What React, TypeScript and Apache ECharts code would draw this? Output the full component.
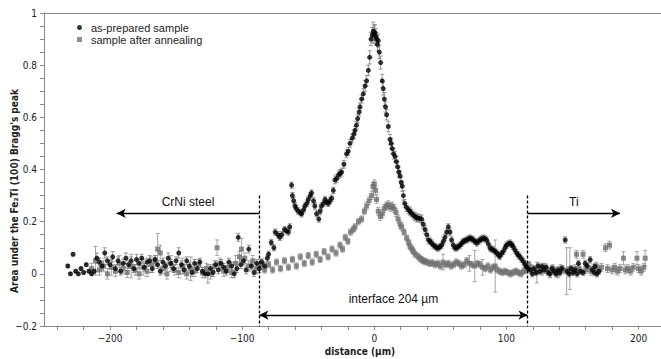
import React, { useEffect, useRef } from "react";
import * as echarts from "echarts";

// [distance (µm), area, error]
const asPrepared: number[][] = [
  [-232,0.03,0.005],[-230,0.0,0.005],[-228,0.075,0.006],[-226,0.01,0.005],[-224,0.0,0.005],[-222,0.02,0.005],[-220,0.005,0.005],[-218,0.035,0.006],[-216,0.01,0.005],[-214,0.0,0.005],[-212,0.01,0.006],
  [-210,0.06,0.02],[-208,0.045,0.015],[-206,0.03,0.015],[-204,0.08,0.02],[-202,0.05,0.015],[-200,0.035,0.015],[-198,0.065,0.02],[-196,0.02,0.015],[-194,0.05,0.015],[-192,0.01,0.015],[-190,0.04,0.015],[-188,0.06,0.02],[-186,0.035,0.015],[-184,0.05,0.015],[-182,0.02,0.015],[-180,0.055,0.02],[-178,0.04,0.015],[-176,0.06,0.015],[-174,0.025,0.015],[-172,0.045,0.015],[-170,0.05,0.02],[-168,0.02,0.015],[-166,0.055,0.015],[-164,0.035,0.015],[-162,0.01,0.015],[-160,0.045,0.015],[-158,0.03,0.015],[-156,0.06,0.02],[-154,0.04,0.015],[-152,0.02,0.015],[-150,0.05,0.015],[-148,0.08,0.02],[-146,0.035,0.015],[-144,0.015,0.015],[-142,0.05,0.015],[-140,0.03,0.015],[-138,0.005,0.015],[-136,0.04,0.015],[-134,0.02,0.015],[-132,0.045,0.015],[-130,0.01,0.015],[-128,0.0,0.015],[-126,0.0,0.035],[-124,0.02,0.015],[-122,0.005,0.015],[-120,0.035,0.015],[-118,0.015,0.015],[-116,0.04,0.015],[-114,0.025,0.015],[-112,0.01,0.015],[-110,0.045,0.015],[-108,0.03,0.015],[-106,0.0,0.015],[-104,0.02,0.015],[-103,0.14,0.015],[-101,0.035,0.015],[-99,0.05,0.015],[-97,0.015,0.015],[-95,0.095,0.015],[-93,0.03,0.015],[-91,0.005,0.015],[-89,0.04,0.015],[-87,0.02,0.015],
  [-85,0.045,0.012],[-83,0.03,0.012],[-81,0.06,0.012],[-80,0.075,0.012],[-78,0.12,0.012],[-76,0.1,0.012],[-75,0.16,0.012],[-73,0.15,0.012],[-71.5,0.14,0.012],[-70,0.15,0.012],[-68,0.17,0.012],[-66.5,0.165,0.012],[-65,0.16,0.012],[-64,0.18,0.012],[-62.6,0.34,0.012],[-62,0.3,0.012],[-61,0.28,0.012],[-60,0.26,0.012],[-59,0.25,0.012],[-57.6,0.24,0.012],[-56,0.235,0.012],[-55,0.23,0.012],[-53.5,0.245,0.012],[-52.5,0.26,0.012],[-51,0.27,0.012],[-50,0.285,0.012],[-48.5,0.3,0.012],[-47.5,0.31,0.012],[-46,0.28,0.012],[-45,0.26,0.012],[-43.7,0.23,0.012],[-42,0.21,0.012],[-41,0.24,0.012],[-40,0.26,0.012],[-38.5,0.27,0.012],[-37.3,0.285,0.012],[-36,0.275,0.012],[-34.8,0.27,0.012],[-33.5,0.28,0.012],[-32.3,0.29,0.012],[-31,0.32,0.012],[-29.8,0.36,0.015],[-28.5,0.365,0.015],[-27,0.38,0.015],[-25.8,0.385,0.015],[-24.7,0.39,0.015],[-23,0.42,0.015],[-21,0.46,0.015],[-19.7,0.47,0.015],[-18.4,0.5,0.015],[-16.7,0.52,0.015],[-15.5,0.535,0.015],[-14.6,0.55,0.015],[-13.5,0.57,0.015],[-12.6,0.595,0.015],[-11.5,0.62,0.015],[-10.8,0.64,0.015],[-9.6,0.67,0.015],[-8.3,0.69,0.02],[-7,0.72,0.02],[-5.8,0.74,0.02],[-4.5,0.78,0.02],[-3.5,0.83,0.025],[-2.5,0.9,0.025],[-1.5,0.915,0.03],[-0.8,0.93,0.035],[0,0.92,0.035],[0.5,0.925,0.03],[1.2,0.91,0.03],[1.7,0.9,0.025],[2.4,0.88,0.025],[3,0.894,0.025],[3.8,0.85,0.025],[4.8,0.81,0.025],[6,0.74,0.025],[6.8,0.71,0.025],[7.6,0.67,0.025],[8.5,0.64,0.02],[9.3,0.61,0.02],[10.6,0.565,0.02],[11.9,0.515,0.02],[12.8,0.5,0.02],[13.6,0.48,0.02],[14.6,0.46,0.02],[15.7,0.45,0.02],[16.7,0.43,0.02],[17.7,0.41,0.02],[18.6,0.39,0.02],[19.5,0.375,0.02],[20.4,0.35,0.02],[21.2,0.336,0.02],[22,0.3,0.02],[23,0.27,0.015],[24.3,0.255,0.015],[25.8,0.245,0.015],[27,0.24,0.015],[28,0.233,0.015],[29.5,0.225,0.015],[30.8,0.22,0.015],[32,0.215,0.015],[33,0.214,0.015],[34.5,0.212,0.015],[35.8,0.21,0.015],[37,0.19,0.015],[38.4,0.17,0.015],[39.7,0.15,0.015],[41,0.13,0.015],[42.2,0.125,0.012],[43.4,0.118,0.012],[44.7,0.11,0.012],[46,0.105,0.012],[47.2,0.1,0.012],[48.5,0.099,0.012],[49.8,0.104,0.012],[51,0.11,0.012],[52.3,0.125,0.012],[53.5,0.14,0.012],[54.8,0.16,0.012],[56,0.18,0.012],[57.3,0.16,0.012],[58.5,0.13,0.012],[59.8,0.11,0.012],[61,0.1,0.012],[62.3,0.099,0.012],[63.6,0.105,0.012],[65,0.11,0.012],[66.2,0.118,0.012],[67.4,0.124,0.012],[68.7,0.128,0.012],[70,0.13,0.012],[71.2,0.134,0.012],[72.5,0.137,0.012],[73.8,0.134,0.012],[75,0.13,0.012],[76.3,0.124,0.012],[77.6,0.118,0.012],[78.8,0.125,0.012],[80,0.13,0.012],[81.3,0.134,0.012],[82.6,0.137,0.012],[83.8,0.134,0.012],[85,0.13,0.012],[86.3,0.115,0.012],[87.6,0.099,0.012],[88.8,0.095,0.012],[90,0.092,0.012],[91.4,0.086,0.012],[92.7,0.08,0.012],[94,0.072,0.012],[95,0.067,0.012],[96.3,0.078,0.012],[97.7,0.086,0.012],[99,0.1,0.012],[100,0.11,0.012],[101.4,0.115,0.012],[102.8,0.118,0.012],[104,0.112,0.012],[105,0.105,0.012],[106.4,0.092,0.012],[107.8,0.08,0.012],[109,0.072,0.012],[110,0.067,0.012],[111.5,0.056,0.012],[112.9,0.047,0.012],[114,0.036,0.012],[115,0.028,0.012],[116.5,0.02,0.012],[118,0.015,0.012],
  [119.5,0.0,0.012],[121,0.02,0.012],[122.5,0.005,0.012],[124,0.03,0.012],[125.5,0.01,0.012],[127,0.028,0.012],[128.5,0.015,0.012],[130,0.025,0.012],[131.5,0.005,0.012],[133,0.0,0.012],[134.5,0.02,0.012],[136,0.01,0.012],[137.5,0.0,0.012],[139,0.015,0.012],[140.5,0.005,0.012],[142,0.02,0.012],[144.5,0.13,0.012],[146,0.01,0.012],[147.5,0.0,0.012],[149,0.02,0.012],[150.5,0.005,0.012],[152,0.015,0.012],[153.5,0.0,0.012],[154.5,0.04,0.012],[156,0.01,0.012],[158,0.005,0.012],[159.6,0.04,0.012],[161,0.03,0.012],[163.4,0.054,0.012],[165,0.015,0.012],[166.5,0.005,0.012],[167,0.028,0.012],[168.5,0.0,0.012],[170,0.01,0.012]
];

const afterAnnealing: number[][] = [
  [-214,0.02,0.02],[-211,0.05,0.055],[-208,0.015,0.02],[-205,0.03,0.02],[-202,0.0,0.02],[-199,0.025,0.03],[-196,0.01,0.02],[-193,0.04,0.03],[-190,0.02,0.02],[-187,0.005,0.02],[-184,0.03,0.045],[-181,0.015,0.02],[-178,0.0,0.02],[-175,0.025,0.03],[-172,0.01,0.02],[-169,0.035,0.03],[-166,0.05,0.02],[-164,0.095,0.06],[-162,0.08,0.03],[-160,0.02,0.02],[-157,0.0,0.02],[-154,0.04,0.03],[-151,0.015,0.02],[-148,0.005,0.02],[-145,0.03,0.03],[-142,0.0,0.02],[-139,0.02,0.045],[-136,0.01,0.02],[-133,0.035,0.02],[-130,0.005,0.02],[-127,0.02,0.02],[-124,0.0,0.02],[-121,0.03,0.02],[-119,0.1,0.03],[-117,0.04,0.02],[-114,0.01,0.02],[-111,0.025,0.02],[-108,0.005,0.02],[-105,0.04,0.03],[-102,0.065,0.02],[-100.5,0.095,0.04],[-98,0.06,0.02],[-95,0.03,0.02],[-92,0.05,0.02],[-89,0.02,0.02],[-86,0.035,0.02],
  [-83,0.015,0.012],[-80,0.035,0.012],[-77,0.015,0.012],[-74,0.045,0.012],[-71,0.02,0.012],[-68,0.05,0.012],[-65,0.025,0.012],[-62,0.055,0.012],[-59,0.03,0.012],[-56,0.065,0.012],[-53,0.04,0.012],[-50,0.07,0.012],[-47,0.045,0.012],[-44,0.075,0.012],[-41,0.055,0.012],[-38,0.085,0.012],[-35,0.065,0.012],[-32,0.095,0.012],[-29,0.08,0.012],[-26,0.11,0.012],[-24,0.095,0.012],[-22,0.14,0.012],[-20,0.125,0.012],[-18,0.16,0.012],[-16,0.17,0.012],[-14.6,0.18,0.012],[-12,0.2,0.012],[-9.6,0.21,0.012],[-7.5,0.24,0.012],[-5.8,0.26,0.015],[-4,0.28,0.015],[-2,0.3,0.015],[-1,0.335,0.015],[0,0.345,0.015],[1,0.32,0.015],[1.7,0.285,0.015],[3,0.24,0.015],[4.5,0.22,0.015],[6,0.23,0.015],[7.5,0.25,0.015],[9,0.26,0.015],[10.5,0.265,0.015],[12,0.255,0.015],[13.5,0.26,0.015],[15,0.25,0.015],[16.5,0.235,0.015],[18,0.21,0.015],[19.5,0.19,0.015],[20.7,0.18,0.015],[22.5,0.16,0.012],[24.5,0.137,0.012],[26,0.12,0.012],[27,0.105,0.012],[28.5,0.095,0.012],[29.5,0.086,0.012],[31,0.075,0.012],[33,0.067,0.012],[34.5,0.06,0.012],[35.8,0.054,0.012],[37,0.05,0.012],[38.4,0.047,0.012],[40,0.045,0.012],[42,0.04,0.012],[44,0.042,0.012],[46,0.035,0.012],[48,0.04,0.012],[50,0.03,0.012],[52,0.045,0.03],[54,0.035,0.012],[56,0.04,0.012],[58,0.03,0.012],[60,0.035,0.012],[62,0.045,0.012],[64,0.04,0.012],[66,0.03,0.012],[68,0.035,0.012],[70,0.05,0.012],[72,0.04,0.03],[74,0.035,0.012],[76,0.03,0.06],[78,0.04,0.012],[80,0.035,0.012],[82,0.025,0.03],[84,0.02,0.012],[86,0.03,0.012],[88,0.015,0.012],[90,0.025,0.012],[91.5,0.03,0.1],[93,0.015,0.012],[95,0.01,0.012],[97,0.005,0.012],[99,0.01,0.012],[101,0.005,0.012],[103,0.0,0.012],[105,0.005,0.012],[107,0.01,0.012],[109,0.005,0.012],[111,0.0,0.012],[113,0.01,0.012],[115,0.015,0.012],[117,0.035,0.012],
  [119,0.02,0.015],[121,0.01,0.015],[123,0.005,0.04],[125,0.02,0.015],[127,0.01,0.015],[129,0.025,0.015],[131,0.015,0.015],[133,0.005,0.02],[135,0.02,0.015],[137,0.01,0.015],[139,0.0,0.015],[141,0.02,0.015],[143,0.015,0.015],[145.6,0.01,0.09],[148,0.02,0.08],[150,0.01,0.015],[152,0.02,0.015],[153,0.075,0.015],[155,0.02,0.015],[158,0.075,0.015],[160,0.015,0.015],[162,0.025,0.015],[164,0.01,0.015],[166,0.02,0.015],[168,0.03,0.015],[170,0.015,0.015],[172,0.025,0.015],[175,0.1,0.015],[176.5,0.02,0.015],[178,0.11,0.015],[180,0.015,0.015],[182,0.025,0.015],[184,0.01,0.015],[186,0.02,0.015],[188.6,0.06,0.025],[190,0.015,0.015],[192,0.02,0.015],[194,0.01,0.015],[196,0.025,0.015],[198.8,0.06,0.025],[200,0.02,0.015],[202,0.01,0.015],[204,0.025,0.015],[205,0.06,0.03]
];

const seriesNames = ["as-prepared sample", "sample after annealing"];
const xLabelValues = [-200, -100, 0, 100, 200];
const xTickValues = [-240,-220,-200,-180,-160,-140,-120,-100,-80,-60,-40,-20,0,20,40,60,80,100,120,140,160,180,200];
const yLabelValues = [-0.2, 0, 0.2, 0.4, 0.6, 0.8, 1];
const yTickValues = [-0.2,-0.15,-0.1,-0.05,0,0.05,0.1,0.15,0.2,0.25,0.3,0.35,0.4,0.45,0.5,0.55,0.6,0.65,0.7,0.75,0.8,0.85,0.9,0.95,1];

// interface boundaries and annotation levels
const interfaceLeft = -87;
const interfaceRight = 116;
const dashTop = 0.3;
const sideArrowY = 0.232;
const crniArrowEnd = -195;
const tiArrowEnd = 186;
const interfaceArrowY = -0.158;

const AXIS_FONT = '"DejaVu Sans Condensed", "DejaVu Sans", sans-serif';
const TEXT_FONT = '"Liberation Sans", Arial, sans-serif';

function fmt(v: number): string {
  const s = String(Math.round(v * 100) / 100);
  return s.replace("-", "\u2212");
}

function errRender(color: string) {
  return (params: any, api: any) => {
    const x = api.value(0);
    const y = api.value(1);
    const e = api.value(2);
    const top = api.coord([x, y + e]);
    const bot = api.coord([x, y - e]);
    const st = { stroke: color, lineWidth: 0.8 };
    return {
      type: "group",
      children: [
        { type: "line", shape: { x1: top[0], y1: top[1], x2: bot[0], y2: bot[1] }, style: st },
        { type: "line", shape: { x1: top[0] - 2, y1: top[1], x2: top[0] + 2, y2: top[1] }, style: st },
        { type: "line", shape: { x1: bot[0] - 2, y1: bot[1], x2: bot[0] + 2, y2: bot[1] }, style: st },
      ],
    };
  };
}

export default function App() {
  const ref = useRef<HTMLDivElement>(null);
  useEffect(() => {
    if (!ref.current) return;
    const chart = echarts.init(ref.current, null, { renderer: "svg" });
    const axisColor = "#8a8a8a";
    const option: any = {
      animation: false,
      backgroundColor: "#ffffff",
      grid: { left: 44, right: 0, top: 13, bottom: 33 },
      legend: {
        left: 72,
        top: 17,
        orient: "vertical",
        itemWidth: 5,
        itemHeight: 5,
        itemGap: 1,
        data: seriesNames,
        textStyle: { fontFamily: TEXT_FONT, fontSize: 11, color: "#222", padding: [0, 0, 0, 4] },
      },
      xAxis: [
        {
          type: "value",
          min: -250,
          max: 217,
          axisLine: { show: true, onZero: false, lineStyle: { color: axisColor, width: 1 } },
          axisTick: { show: true, customValues: xTickValues, length: 4, lineStyle: { color: axisColor } },
          axisLabel: { customValues: xLabelValues, formatter: (v: number) => fmt(v), margin: 7, fontFamily: AXIS_FONT, fontSize: 10, color: "#222" },
          splitLine: { show: false },
        },
        {
          type: "value",
          position: "top",
          min: -250,
          max: 217,
          axisLine: { show: true, onZero: false, lineStyle: { color: axisColor, width: 1 } },
          axisTick: { show: false },
          axisLabel: { show: false },
          splitLine: { show: false },
        },
      ],
      yAxis: {
        type: "value",
        min: -0.2,
        max: 1,
        axisLine: { show: true, onZero: false, lineStyle: { color: axisColor, width: 1 } },
        axisTick: { show: true, customValues: yTickValues, length: 4, lineStyle: { color: axisColor } },
        axisLabel: { customValues: yLabelValues, formatter: (v: number) => fmt(v), margin: 7, fontFamily: AXIS_FONT, fontSize: 10, color: "#222" },
        splitLine: { show: false },
      },
      graphic: [
        {
          type: "text",
          x: 14,
          y: 191,
          rotation: Math.PI / 2,
          style: {
            text: "Area under the Fe\u2082Ti (100) Bragg's peak",
            fontFamily: AXIS_FONT,
            fontWeight: "bold",
            fontSize: 10,
            fill: "#222",
            align: "center",
            verticalAlign: "middle",
          },
        },
        {
          type: "text",
          x: 360,
          y: 351,
          style: {
            text: "distance (\u00b5m)",
            fontFamily: AXIS_FONT,
            fontWeight: "bold",
            fontSize: 10,
            fill: "#222",
            align: "center",
            verticalAlign: "middle",
          },
        },
      ],
      series: [
        {
          type: "custom",
          name: "annealErr",
          renderItem: errRender("#8f8f8f"),
          data: afterAnnealing,
          encode: { x: 0, y: 1 },
          z: 1,
          silent: true,
        },
        {
          type: "scatter",
          name: seriesNames[1],
          data: afterAnnealing.map((d) => [d[0], d[1]]),
          symbol: "rect",
          symbolSize: 5,
          itemStyle: { color: "#6e6e6e" },
          z: 2,
        },
        {
          type: "custom",
          name: "preparedErr",
          renderItem: errRender("#7d7d7d"),
          data: asPrepared,
          encode: { x: 0, y: 1 },
          z: 3,
          silent: true,
        },
        {
          type: "scatter",
          name: seriesNames[0],
          data: asPrepared.map((d) => [d[0], d[1]]),
          symbol: "circle",
          symbolSize: 5,
          itemStyle: { color: "#000000" },
          z: 4,
          markLine: {
            silent: true,
            symbol: ["none", "none"],
            symbolSize: [7, 9],
            lineStyle: { color: "#000", width: 1.3, type: "solid" },
            label: { show: false },
            data: [
              [
                { coord: [interfaceLeft, dashTop], symbol: "none", lineStyle: { type: [3, 2], width: 1.3, color: "#000" } },
                { coord: [interfaceLeft, -0.2], symbol: "none" },
              ],
              [
                { coord: [interfaceRight, dashTop], symbol: "none", lineStyle: { type: [3, 2], width: 1.3, color: "#000" } },
                { coord: [interfaceRight, -0.2], symbol: "none" },
              ],
              [
                {
                  coord: [crniArrowEnd, sideArrowY],
                  symbol: "arrow",
                  label: { show: true, formatter: "CrNi steel", position: "insideMiddleTop", distance: 5, fontFamily: TEXT_FONT, fontSize: 12, color: "#111" },
                },
                { coord: [interfaceLeft, sideArrowY], symbol: "none" },
              ],
              [
                {
                  coord: [interfaceRight, sideArrowY],
                  symbol: "none",
                  label: { show: true, formatter: "Ti", position: "insideMiddleTop", distance: 5, fontFamily: TEXT_FONT, fontSize: 12, color: "#111" },
                },
                { coord: [tiArrowEnd, sideArrowY], symbol: "arrow" },
              ],
              [
                {
                  coord: [interfaceLeft, interfaceArrowY],
                  symbol: "arrow",
                  label: { show: true, formatter: "interface 204 \u00b5m", position: "insideMiddleTop", distance: 10, fontFamily: TEXT_FONT, fontSize: 12, color: "#111" },
                },
                { coord: [interfaceRight, interfaceArrowY], symbol: "arrow" },
              ],
            ],
          },
        },
      ],
    };
    chart.setOption(option);
    return () => chart.dispose();
  }, []);
  return (
    <div
      ref={ref}
      style={{ position: "absolute", left: 0, top: 0, width: 661, height: 359, background: "#fff" }}
    />
  );
}
